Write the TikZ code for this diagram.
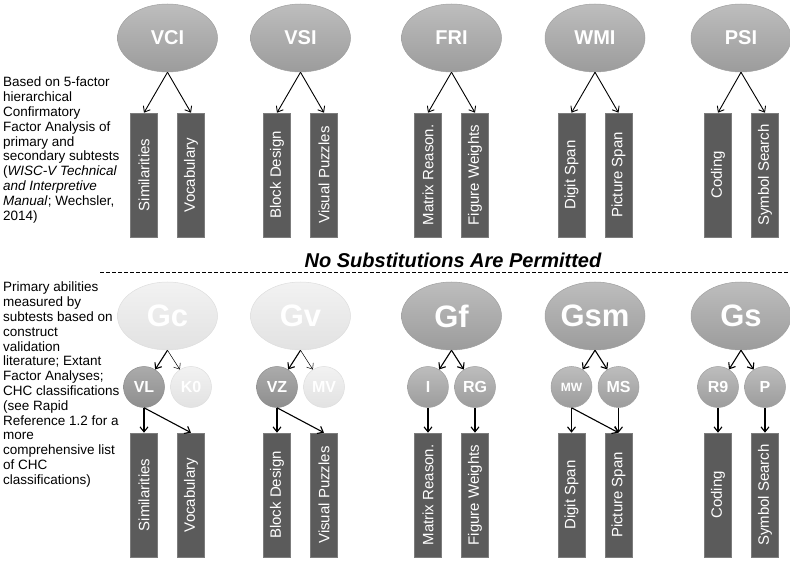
\documentclass[tikz,border=0pt]{standalone}
\usepackage{fontspec}
\setmainfont{Liberation Sans}
\usetikzlibrary{arrows.meta,shapes.geometric}

% grey palette
\definecolor{ballTop}{HTML}{BDBDBD}
\definecolor{ballBot}{HTML}{9C9C9C}
\definecolor{ballRim}{HTML}{A0A0A0}
\definecolor{paleTop}{HTML}{F2F2F2}
\definecolor{paleBot}{HTML}{E2E2E2}
\definecolor{paleRim}{HTML}{DEDEDE}
\definecolor{deepTop}{HTML}{ABABAB}
\definecolor{deepBot}{HTML}{8E8E8E}
\definecolor{barFill}{HTML}{5B5B5B}
\definecolor{barRim}{HTML}{7C7C7C}

\begin{document}
\begin{tikzpicture}[x=1pt,y=-1pt,
  factor/.style={ellipse, minimum width=100pt, minimum height=68pt, inner sep=0pt,
    top color=ballTop, bottom color=ballBot, draw=ballRim, line width=0.5pt,
    text=white, font=\fontsize{20}{24}\selectfont\bfseries},
  broad/.style={factor, font=\fontsize{31}{36}\selectfont\bfseries},
  palebroad/.style={broad, top color=paleTop, bottom color=paleBot, draw=paleRim},
  narrow/.style={circle, minimum size=41pt, inner sep=0pt,
    top color=ballTop, bottom color=ballBot, draw=ballRim, line width=0.5pt,
    text=white, font=\fontsize{16}{18}\selectfont\bfseries},
  deepnarrow/.style={narrow, top color=deepTop, bottom color=deepBot, draw=deepBot},
  palenarrow/.style={narrow, top color=paleTop, bottom color=paleBot, draw=paleRim},
  subtest/.style={rectangle, rotate=90, minimum width=124pt, minimum height=27pt,
    inner sep=0pt, fill=barFill, draw=barRim, line width=0.6pt,
    text=white, font=\fontsize{15}{18}\selectfont},
  link/.style={-{Straight Barb[length=5pt,width=8pt]}, line width=1.1pt, black},
  faint/.style={-{Straight Barb[length=5pt,width=8pt]}, line width=0.5pt, black},
  note/.style={anchor=north west, inner sep=0pt, align=left,
    font=\fontsize{13.5}{14.8}\selectfont}
]
\useasboundingbox (0,0) rectangle (790,561);

% ---------- WISC-V index level ----------
\node[factor] (VCI) at (167.5,38) {VCI};
\node[factor] (VSI) at (300.5,38) {VSI};
\node[factor] (FRI) at (451.5,38) {FRI};
\node[factor] (WMI) at (595,38) {WMI};
\node[factor] (PSI) at (741,38) {PSI};

\node[subtest] (tSI) at (144,175) {Similarities};
\node[subtest] (tVC) at (191,175) {Vocabulary};
\node[subtest] (tBD) at (277,175) {Block Design};
\node[subtest] (tVP) at (324,175) {Visual Puzzles};
\node[subtest] (tMR) at (428,175) {Matrix Reason.};
\node[subtest] (tFW) at (475,175) {Figure Weights};
\node[subtest] (tDS) at (571.5,175) {Digit Span};
\node[subtest] (tPS) at (618.5,175) {Picture Span};
\node[subtest] (tCD) at (718,175) {Coding};
\node[subtest] (tSS) at (765,175) {Symbol Search};

\foreach \f/\a/\b in {VCI/tSI/tVC, VSI/tBD/tVP, FRI/tMR/tFW, WMI/tDS/tPS, PSI/tCD/tSS}{
  \draw[link, line width=0.9pt] (\f.south) -- (\a.east);
  \draw[link, line width=0.9pt] (\f.south) -- (\b.east);
}

\node[note] (topnote) at (3,77) {Based on 5-factor\\hierarchical\\Confirmatory\\Factor Analysis of\\primary and\\secondary subtests\\(\textit{WISC-V Technical}\\\textit{and Interpretive}\\\textit{Manual}; Wechsler,\\2014)};

% ---------- divider ----------
\coordinate (dashL) at (100,273);
\coordinate (dashR) at (790,273);
\draw[line width=1pt, dash pattern=on 4pt off 2pt] (dashL) -- (dashR);
\node[anchor=base, inner sep=0pt, font=\fontsize{20}{24}\selectfont\bfseries\itshape] (rule) at (453,268) {No Substitutions Are Permitted};

% ---------- CHC ability level ----------
\node[palebroad] (Gc) at (167.5,316) {Gc};
\node[palebroad] (Gv) at (300.5,316) {Gv};
\node[broad] (Gf) at (451.5,316) {Gf};
\node[broad] (Gsm) at (595,316) {Gsm};
\node[broad] (Gs) at (741,316) {Gs};

\node[deepnarrow] (VL) at (144,387) {VL};
\node[palenarrow] (KO) at (191,387) {K0};
\node[deepnarrow] (VZ) at (277,387) {VZ};
\node[palenarrow] (MV) at (324,387) {MV};
\node[narrow] (I) at (428,387) {I};
\node[narrow] (RG) at (475,387) {RG};
\node[narrow, font=\fontsize{12}{14}\selectfont\bfseries] (MW) at (571.5,387) {MW};
\node[narrow] (MS) at (618.5,387) {MS};
\node[narrow] (R9) at (718,387) {R9};
\node[narrow] (P) at (765,387) {P};

\node[subtest] (bSI) at (144,495) {Similarities};
\node[subtest] (bVC) at (191,495) {Vocabulary};
\node[subtest] (bBD) at (277,495) {Block Design};
\node[subtest] (bVP) at (324,495) {Visual Puzzles};
\node[subtest] (bMR) at (428,495) {Matrix Reason.};
\node[subtest] (bFW) at (475,495) {Figure Weights};
\node[subtest] (bDS) at (571.5,495) {Digit Span};
\node[subtest] (bPS) at (618.5,495) {Picture Span};
\node[subtest] (bCD) at (718,495) {Coding};
\node[subtest] (bSS) at (765,495) {Symbol Search};

% broad -> narrow
\draw[link] (Gc.south) -- (VL);
\draw[faint] (Gc.south) -- (KO);
\draw[link] (Gv.south) -- (VZ);
\draw[faint] (Gv.south) -- (MV);
\draw[link] (Gf.south) -- (I);
\draw[link] (Gf.south) -- (RG);
\draw[link] (Gsm.south) -- (MW);
\draw[link] (Gsm.south) -- (MS);
\draw[link] (Gs.south) -- (R9);
\draw[link] (Gs.south) -- (P);

% narrow -> subtest
\draw[link] (VL.south) -- (bSI.east);
\draw[link] (VL.south) -- (bVC.east);
\draw[link] (VZ.south) -- (bBD.east);
\draw[link] (VZ.south) -- (bVP.east);
\draw[link] (I.south) -- (bMR.east);
\draw[link] (RG.south) -- (bFW.east);
\draw[link] (MW.south) -- (bDS.east);
\draw[link] (MW.south) -- (bPS.east);
\draw[link] (MS.south) -- (bPS.east);
\draw[link] (R9.south) -- (bCD.east);
\draw[link] (P.south) -- (bSS.east);

\node[note] (botnote) at (3,282) {Primary abilities\\measured by\\subtests based on\\construct\\validation\\literature; Extant\\Factor Analyses;\\CHC classifications\\(see Rapid\\Reference 1.2 for a\\more\\comprehensive list\\of CHC\\classifications)};
\end{tikzpicture}
\end{document}
